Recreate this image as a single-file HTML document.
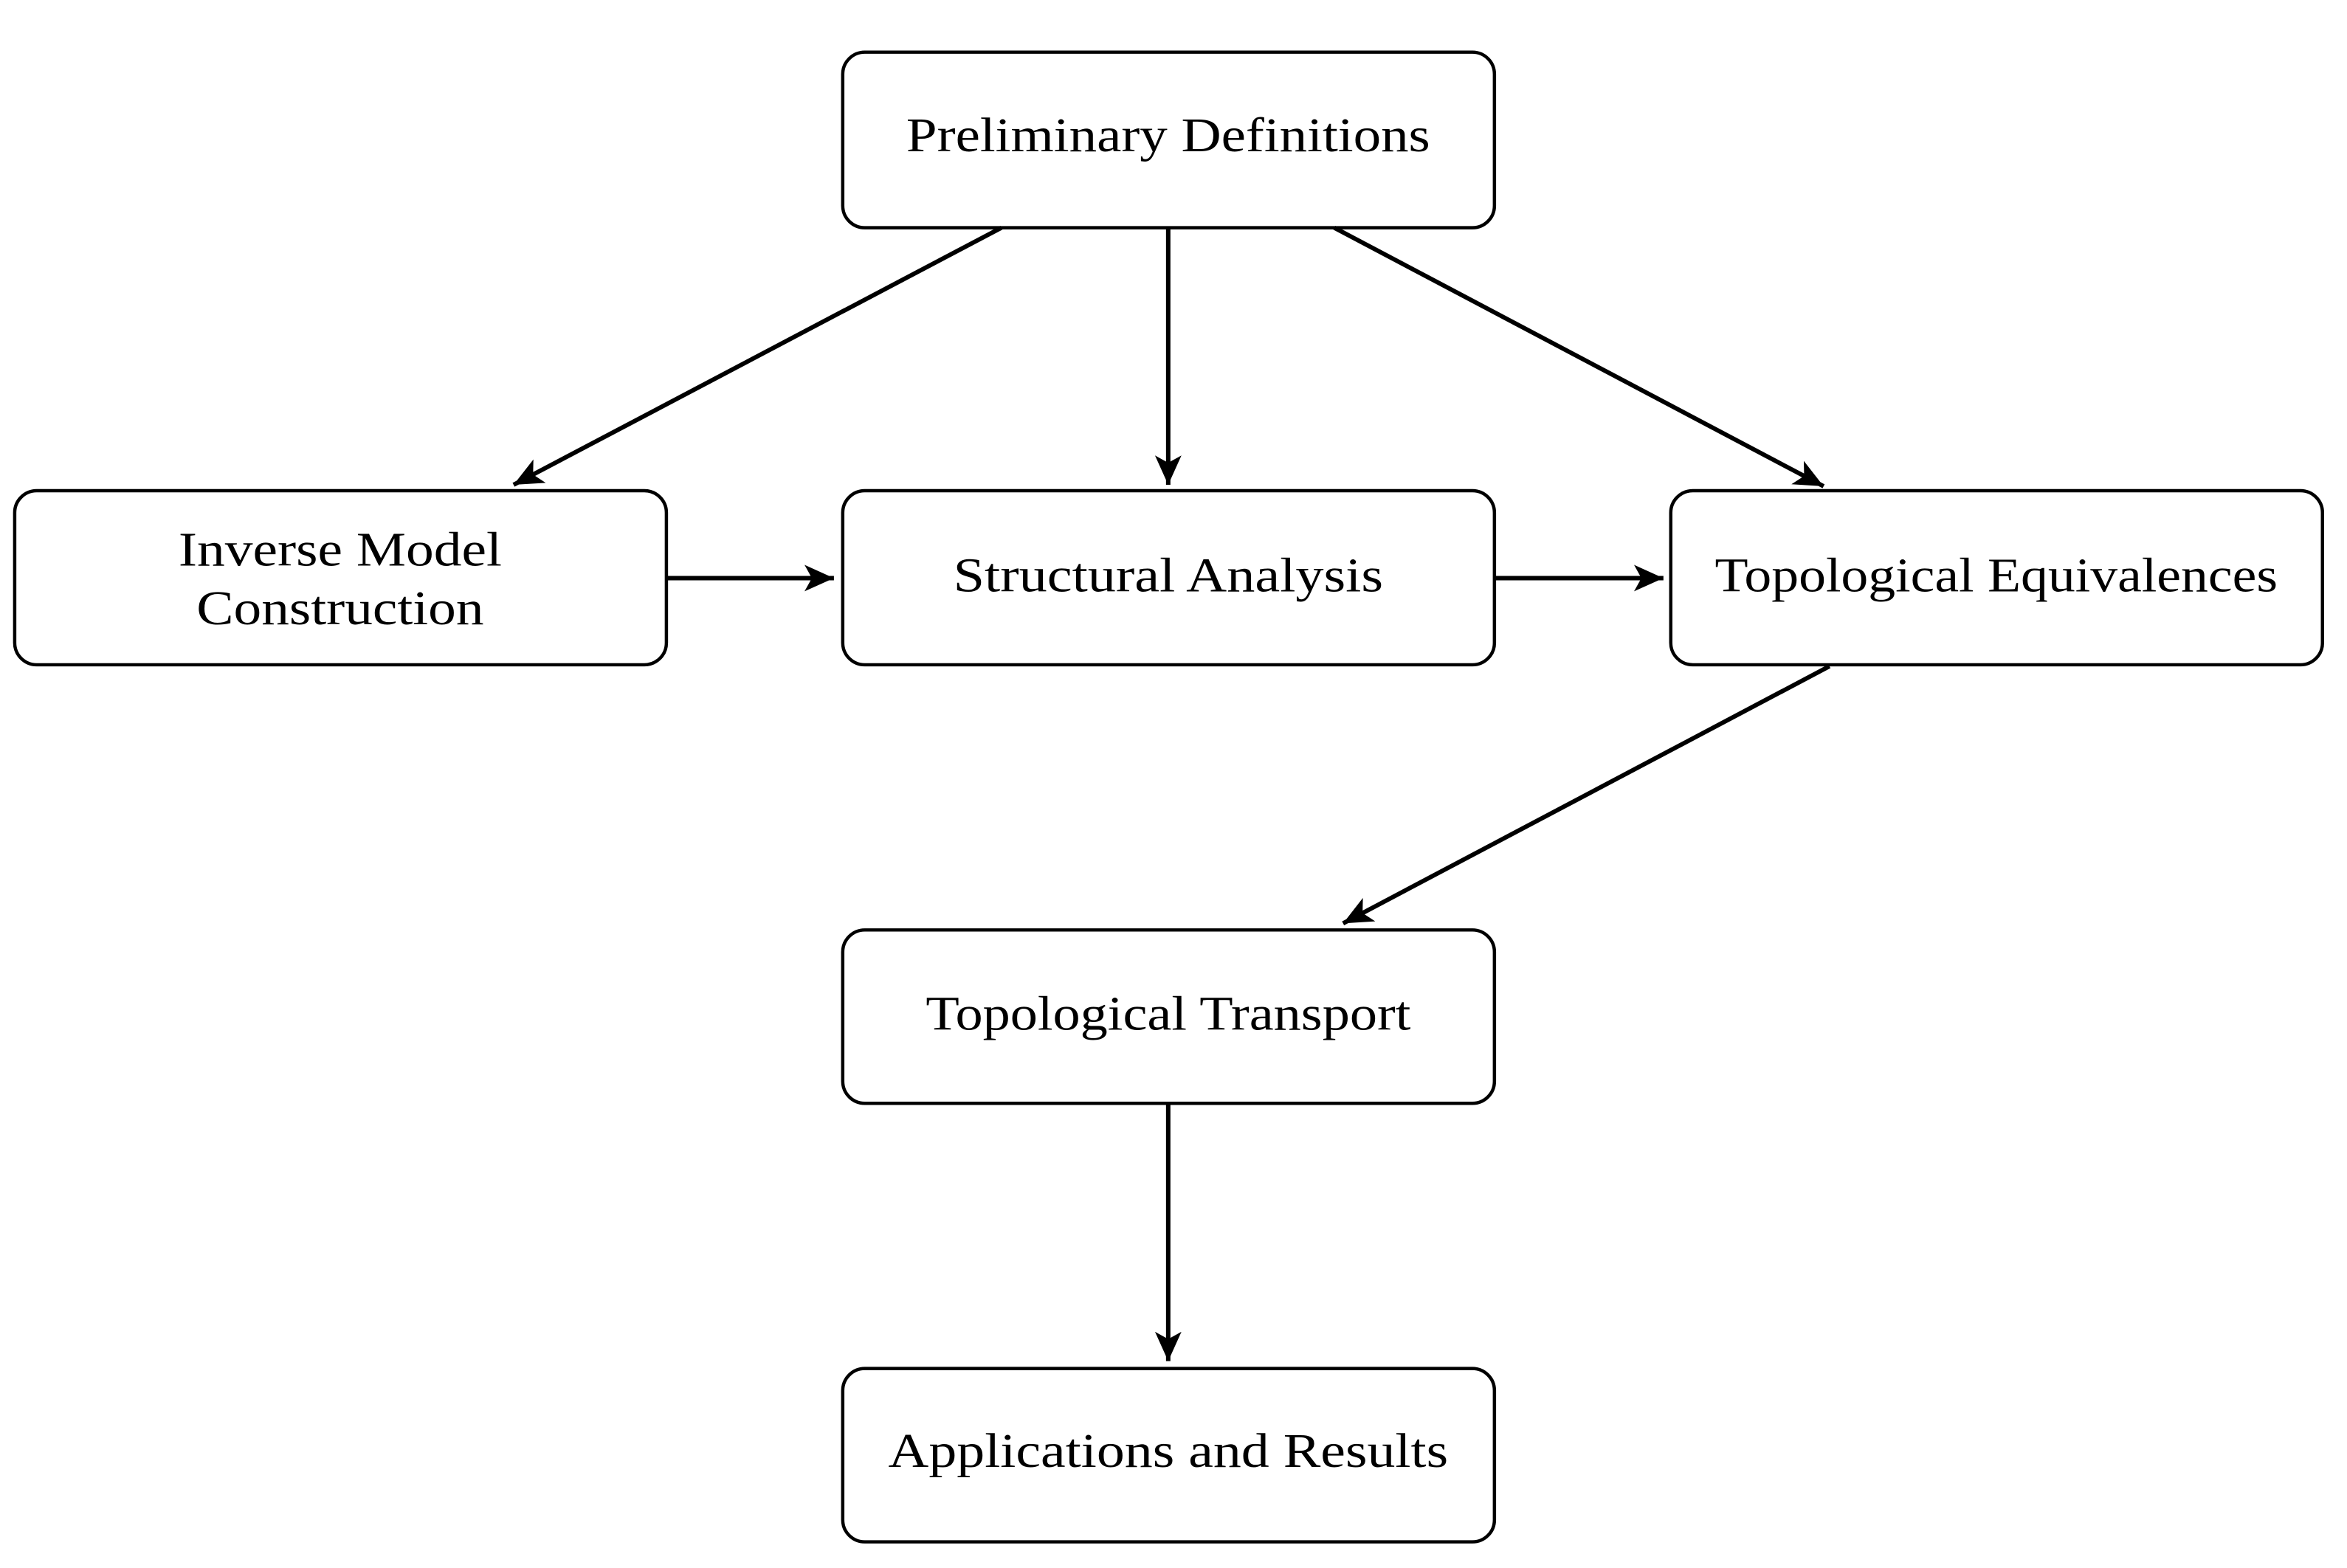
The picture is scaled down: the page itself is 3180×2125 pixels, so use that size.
<!DOCTYPE html>
<html><head><meta charset="utf-8"><style>html,body{margin:0;padding:0;background:#fff}svg{display:block}</style></head>
<body>
<svg width="3180" height="2125" viewBox="0 0 3180 2125" xmlns="http://www.w3.org/2000/svg">
<defs>
<marker id="a" markerUnits="userSpaceOnUse" markerWidth="60" markerHeight="60" refX="40" refY="30" orient="auto">
<path d="M0,12 L40,30 L0,48 L10,30 Z" fill="#000"/>
</marker>
</defs>
<g transform="scale(0.9955)">
<g fill="#fff" stroke="#000" stroke-width="4.5">
<rect x="1147" y="71" width="887" height="239" rx="30"/>
<rect x="20" y="668" width="887" height="237" rx="30"/>
<rect x="1147" y="668" width="887" height="237" rx="30"/>
<rect x="2274" y="668" width="887" height="237" rx="30"/>
<rect x="1147" y="1266" width="887" height="236" rx="30"/>
<rect x="1147" y="1863" width="887" height="236" rx="30"/>
</g>
<g stroke="#000" stroke-width="6" fill="none" marker-end="url(#a)">
<line x1="1363" y1="310" x2="699" y2="660"/>
<line x1="1590" y1="310" x2="1590" y2="660"/>
<line x1="1816" y1="310" x2="2482" y2="662"/>
<line x1="907" y1="787" x2="1135" y2="787"/>
<line x1="2034" y1="787" x2="2264" y2="787"/>
<line x1="2490" y1="907" x2="1828" y2="1257"/>
<line x1="1590" y1="1502" x2="1590" y2="1853"/>
</g>
<g font-family="'Liberation Serif', serif" font-size="66" fill="#000" text-anchor="middle">
<text x="1590" y="206" textLength="713" lengthAdjust="spacingAndGlyphs">Preliminary Definitions</text>
<text x="463" y="770" textLength="440" lengthAdjust="spacingAndGlyphs">Inverse Model</text>
<text x="463" y="850" textLength="391" lengthAdjust="spacingAndGlyphs">Construction</text>
<text x="1590" y="805" textLength="585" lengthAdjust="spacingAndGlyphs">Structural Analysis</text>
<text x="2717" y="805" textLength="766" lengthAdjust="spacingAndGlyphs">Topological Equivalences</text>
<text x="1590" y="1402" textLength="660" lengthAdjust="spacingAndGlyphs">Topological Transport</text>
<text x="1590" y="1997" textLength="762" lengthAdjust="spacingAndGlyphs">Applications and Results</text>
</g>
</g>
</svg>
</body></html>
